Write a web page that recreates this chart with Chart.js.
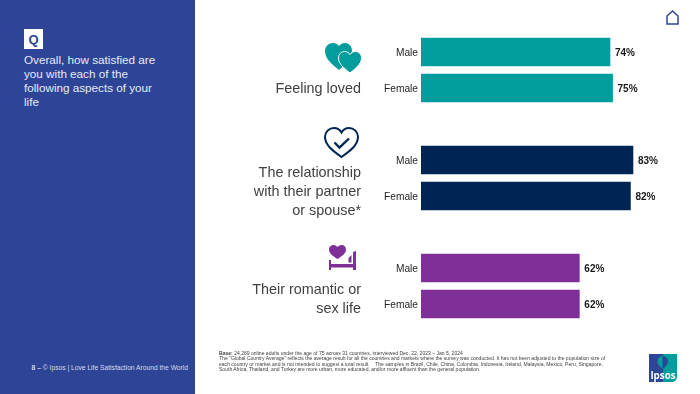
<!DOCTYPE html>
<html>
<head>
<meta charset="utf-8">
<script src="https://cdn.jsdelivr.net/npm/chart.js@4/dist/chart.umd.min.js"></script>
<style>
html, body { margin: 0; padding: 0; background: #fff; }
body { width: 700px; height: 394px; overflow: hidden; position: relative; font-family: "Liberation Sans", Arial, sans-serif; }
#side { position: absolute; left: 0; top: 0; width: 195px; height: 394px; background: #2e4597; }
#qbox { position: absolute; left: 24px; top: 29px; width: 19px; height: 20px; background: #fff; color: #2e4597; font-weight: bold; font-size: 13px; line-height: 21px; text-align: center; }
#question { position: absolute; left: 24px; top: 52.5px; width: 150px; color: #e6e9f4; font-size: 11.7px; line-height: 14px; }
#pageno { position: absolute; left: 0; width: 188px; top: 363px; text-align: right; color: #d5daec; font-size: 6.7px; line-height: 9px; white-space: nowrap; }
#chartbox { position: absolute; left: 0; top: 0; width: 700px; height: 394px; }
.group { position: absolute; right: 339px; text-align: right; color: #404040; font-size: 14.4px; line-height: 19px; white-space: nowrap; }
#foot { position: absolute; left: 219px; top: 351px; color: #404040; font-size: 5.06px; line-height: 5.3px; white-space: nowrap; }
svg { position: absolute; overflow: visible; }
</style>
</head>
<body>
<div id="side"></div>
<div id="qbox">Q</div>
<div id="question">Overall, how satisfied are<br>you with each of the<br>following aspects of your<br>life</div>
<div id="pageno"><b>8</b> <b>–</b> © Ipsos | Love Life Satisfaction Around the World</div>

<div id="chartbox"><canvas id="satisfactionChart" width="700" height="394"></canvas></div>

<div class="group" style="top:79px">Feeling loved</div>
<div class="group" style="top:163px">The relationship<br>with their partner<br>or spouse*</div>
<div class="group" style="top:280px">Their romantic or<br>sex life</div>

<!-- icons -->
<svg style="left:325px;top:43px" width="36" height="30" viewBox="0 0 36 30">
  <path d="M14 27 C7 21 0 16 0 8 C0 3 4 0 8 0 C10.5 0 12.5 1 14 3 C15.5 1 17.5 0 20 0 C24 0 27 3 27 8 C27 16 21 21 14 27Z" fill="#009d9c"/>
  <path d="M25 30 C19 25 13.5 21 13.5 15 C13.5 11 16.5 8.5 19.5 8.5 C21.5 8.5 24 9.5 25 11.5 C26 9.5 28.5 8.5 30.5 8.5 C33.5 8.5 36.5 11 36.5 15 C36.5 21 31 25 25 30Z" fill="#009d9c" stroke="#fff" stroke-width="1"/>
</svg>
<svg style="left:324px;top:127px" width="35" height="32" viewBox="0 0 35 32">
  <path d="M17.5 30 C9 24 1 18 1 10 C1 5 5 1 10 1 C13 1 16 3 17.5 5.5 C19 3 22 1 25 1 C30 1 34 5 34 10 C34 18 26 24 17.5 30Z" fill="none" stroke="#002554" stroke-width="2"/>
  <path d="M10.5 15.5 L15.5 20.5 L25 11.5" fill="none" stroke="#002554" stroke-width="2.4"/>
</svg>
<svg style="left:329px;top:245px" width="27" height="25" viewBox="0 0 27 25">
  <path d="M8.5 14 C4 11 0 8.5 0 4.5 C0 1.5 2.5 0 4.5 0 C6 0 7.5 0.7 8.5 2 C9.5 0.7 11 0 12.5 0 C15 0 17 1.5 17 4.5 C17 8.5 13 11 8.5 14Z" fill="#7f3098"/>
  <path d="M0 15 H2 V19 H24 V7 L27 6 V25 H24 V22.5 H2 V25 H0Z" fill="#7f3098"/>
  <path d="M19.5 17.5 V13 L22.5 10 V17.5Z" fill="#7f3098"/>
</svg>
<svg style="left:665px;top:10px" width="14" height="15" viewBox="0 0 14 15">
  <path d="M2 14 V6 L7.5 1 L13 6 V14 Z" fill="none" stroke="#2e4597" stroke-width="1.5"/>
</svg>
<svg style="left:649px;top:354px" width="28" height="28" viewBox="0 0 28 28">
  <path d="M0 0 H28 V22 C28 25 27 27 24 28 H0Z" fill="#009d9c"/>
  <path d="M0 0 H14 V28 H0Z" fill="#2e4597"/>
  <path d="M13.5 2 C9 2.5 7.5 7 9 10 C10 12 12 13 13.5 15Z" fill="#009d9c"/>
  <path d="M14 2 C18 2.5 20 6 18.5 9.5 C17.5 11.5 16 13 14 15Z" fill="#2e4597"/>
  <text x="14" y="24.5" font-family="Open Sans" font-size="9.8" font-weight="bold" fill="#fff" text-anchor="middle">Ipsos</text>
</svg>

<div id="foot"><b>Base:</b> 24,269 online adults under the age of 75 across 31 countries, interviewed Dec. 22, 2023 – Jan 5, 2024<br>The "Global Country Average" reflects the average result for all the countries and markets where the survey was conducted. It has not been adjusted to the population size of<br>each country or market and is not intended to suggest a total result.&nbsp;&nbsp;&nbsp; The samples in Brazil, Chile, China, Colombia, Indonesia, Ireland, Malaysia, Mexico, Peru, Singapore,<br>South Africa, Thailand, and Turkey are more urban, more educated, and/or more affluent than the general population.</div>

<script>
// Empty slots keep the gaps between the three groups
var categories = ['Male', 'Female', '', 'Male', 'Female', '', 'Male', 'Female'];
var satisfied = [74, 75, null, 83, 82, null, 62, 62];
var barColors = ['#009d9c', '#009d9c', null, '#002554', '#002554', null, '#7f3098', '#7f3098'];

var valueLabels = {
    id: 'valueLabels',
    afterDatasetsDraw: function (chart) {
        var ctx = chart.ctx;
        ctx.save();
        ctx.font = 'bold 10px "Liberation Sans"';
        ctx.fillStyle = '#1a1a1a';
        ctx.textBaseline = 'middle';
        chart.getDatasetMeta(0).data.forEach(function (bar, i) {
            if (satisfied[i] === null) return;
            ctx.fillText(satisfied[i] + '%', bar.x + 5, bar.y + 1);
        });
        ctx.restore();
    }
};

var satisfactionChart = new Chart(document.getElementById('satisfactionChart'), {
    type: 'bar',
    data: {
        labels: categories,
        datasets: [{
            data: satisfied,
            backgroundColor: barColors,
            barThickness: 28
        }]
    },
    options: {
        indexAxis: 'y',
        responsive: false,
        animation: false,
        layout: { padding: { left: 361, right: 23.6, top: 34, bottom: 72 } },
        plugins: { legend: { display: false }, tooltip: { enabled: false } },
        scales: {
            x: { display: false, min: 0, max: 100 },
            y: {
                afterFit: function (axis) { axis.width = 60; },
                grid: { display: false, drawTicks: false },
                border: { display: false },
                ticks: { color: '#262626', font: { family: '"Liberation Sans"', size: 10.2 }, padding: 3, labelOffset: 1, autoSkip: false }
            }
        }
    },
    plugins: [valueLabels]
});
</script>
</body>
</html>
